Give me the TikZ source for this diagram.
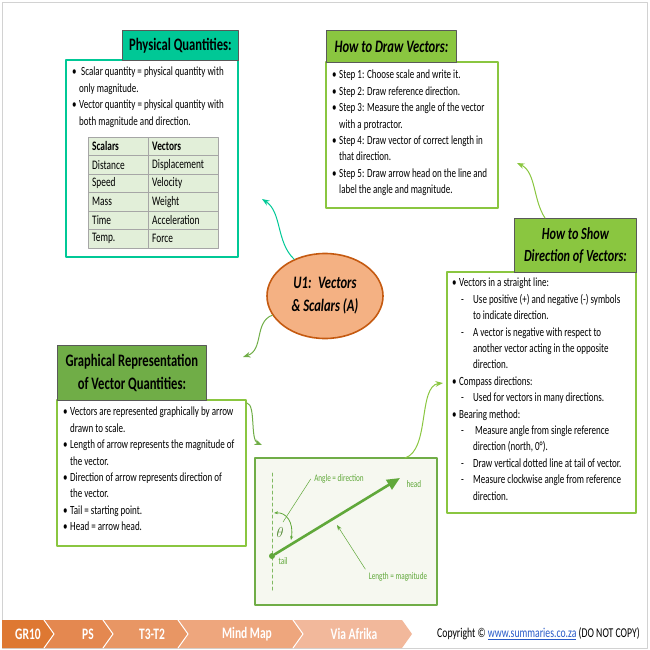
\documentclass[tikz,border=0pt]{standalone}
\usepackage{fontspec}
\setmainfont{Carlito}[FakeStretch=0.72]
\usetikzlibrary{arrows.meta,calc,positioning,shapes.geometric}
\definecolor{mapteal}{RGB}{0,200,150}
\definecolor{mapgreen}{RGB}{138,198,64}
\definecolor{mapdkgreen}{RGB}{112,173,71}
\definecolor{mapedge}{RGB}{89,89,89}
\definecolor{cellgreen}{RGB}{226,239,217}
\definecolor{topicfill}{RGB}{244,177,131}
\definecolor{topicedge}{RGB}{197,90,17}
\definecolor{sketchgreen}{RGB}{96,168,58}
\definecolor{sketchfill}{RGB}{246,248,240}
\definecolor{chevA}{RGB}{222,120,50}
\definecolor{chevB}{RGB}{228,136,80}
\definecolor{chevC}{RGB}{232,150,100}
\definecolor{chevD}{RGB}{238,166,125}
\definecolor{chevE}{RGB}{242,184,155}
\definecolor{linkblue}{RGB}{40,90,200}
\newcommand{\bl}{\makebox[7pt][l]{\textbullet}}
\newcommand{\cn}{\hspace*{7pt}}
\newcommand{\dl}{\hspace*{9pt}\makebox[12pt][l]{-}}
\newcommand{\dc}{\hspace*{21pt}}

\begin{document}
\begin{tikzpicture}[x=1pt,y=-1pt,>=Stealth,line cap=round,line join=round,
  headbox/.style={draw=mapedge,line width=0.8pt,inner sep=0pt,anchor=north west,
    font=\fontsize{17.5}{21}\selectfont\bfseries,align=center},
  bodybox/.style={line width=2.6pt,fill=white},
  bodytext/.style={inner sep=0pt,anchor=north west,align=left,
    font=\fontsize{12.5}{16.4}\selectfont},
  cell/.style={draw=gray!70,fill=cellgreen,line width=0.5pt},
  conn/.style={->,line width=1pt,shorten >=0pt},
  sketch/.style={sketchgreen,font=\fontsize{10}{12}\selectfont},
  chev/.style={draw=white,line width=1pt},
  chevtext/.style={text=white,font=\fontsize{16}{18}\selectfont\bfseries}]
 \useasboundingbox (0,0) rectangle (650,650);
 \draw[gray!35,line width=0.8pt] (2,2) rectangle (647,648);

 % physical quantities
 \draw[bodybox,draw=mapteal] (66,60) rectangle (238,257);
 \node[headbox,fill=mapteal,minimum width=116pt,minimum height=30pt]
  (pqhead) at (122,30) {Physical Quantities:};
 \node[bodytext] (pqtext) at (72,67)
  {\bl\ Scalar quantity = physical quantity with\\
   \cn only magnitude.\\
   \bl Vector quantity = physical quantity with\\
   \cn both magnitude and direction.};
 \foreach \s/\v [count=\i from 0] in {Scalars/Vectors,Distance/Displacement,
   Speed/Velocity,Mass/Weight,Time/Acceleration,Temp./Force}{
  \draw[cell] (88,{137+18.5*\i}) rectangle (148,{155.5+18.5*\i});
  \draw[cell] (148,{137+18.5*\i}) rectangle (218,{155.5+18.5*\i});
  \node[anchor=west,inner sep=0pt,font=\fontsize{13}{15}\selectfont]
   (sc\i) at (92,{146.25+18.5*\i}) {\ifnum\i=0\bfseries\fi\s};
  \node[anchor=west,inner sep=0pt,font=\fontsize{13}{15}\selectfont]
   (vc\i) at (152,{146.25+18.5*\i}) {\ifnum\i=0\bfseries\fi\v};
 }

 % how to draw vectors
 \draw[bodybox,draw=mapgreen] (326,62) rectangle (498,208);
 \node[headbox,fill=mapgreen,minimum width=130pt,minimum height=32pt,
  font=\fontsize{17.5}{21}\selectfont\bfseries\itshape]
  (drawhead) at (326,30) {How to Draw Vectors:};
 \node[bodytext] (drawtext) at (332,70)
  {\bl Step 1: Choose scale and write it.\\
   \bl Step 2: Draw reference direction.\\
   \bl Step 3: Measure the angle of the vector\\
   \cn with a protractor.\\
   \bl Step 4: Draw vector of correct length in\\
   \cn that direction.\\
   \bl Step 5: Draw arrow head on the line and\\
   \cn label the angle and magnitude.};

 % how to show direction
 \draw[bodybox,draw=mapgreen] (447,272) rectangle (636,513);
 \node[headbox,fill=mapgreen,minimum width=122pt,minimum height=54pt,
  font=\fontsize{17}{22}\selectfont\bfseries\itshape]
  (showhead) at (514,218) {How to Show\\Direction of Vectors:};
 \node[bodytext] (showtext) at (452,278)
  {\bl Vectors in a straight line:\\
   \dl Use positive (+) and negative (-) symbols\\
   \dc to indicate direction.\\
   \dl A vector is negative with respect to\\
   \dc another vector acting in the opposite\\
   \dc direction.\\
   \bl Compass directions:\\
   \dl Used for vectors in many directions.\\
   \bl Bearing method:\\
   \dl\ Measure angle from single reference\\
   \dc direction (north, 0°).\\
   \dl Draw vertical dotted line at tail of vector.\\
   \dl Measure clockwise angle from reference\\
   \dc direction.};

 % graphical representation
 \draw[bodybox,draw=mapgreen] (57,400) rectangle (246,546);
 \node[headbox,fill=mapdkgreen,minimum width=149pt,minimum height=55pt,
  font=\fontsize{17.5}{23}\selectfont\bfseries]
  (graphead) at (57,345) {Graphical Representation\\of Vector Quantities:};
 \node[bodytext] (graptext) at (63,407)
  {\bl Vectors are represented graphically by arrow\\
   \cn drawn to scale.\\
   \bl Length of arrow represents the magnitude of\\
   \cn the vector.\\
   \bl Direction of arrow represents direction of\\
   \cn the vector.\\
   \bl Tail = starting point.\\
   \bl Head = arrow head.};

 % vector sketch
 \draw[line width=2.6pt,draw=mapdkgreen,fill=sketchfill] (255,458) rectangle (437,605);
 \coordinate (reftop) at (272,473);
 \coordinate (refbot) at (272,590);
 \draw[sketchgreen!80,dashed,line width=1pt] (reftop) -- (refbot);
 \node[circle,fill=sketchgreen,inner sep=0pt,minimum size=6pt] (tail) at (272,556) {};
 \coordinate (head) at (400,478);
 \draw[sketchgreen,line width=2.6pt,-{Triangle[length=13pt,width=11pt]}] (tail) -- (head);
 \node[sketch,anchor=west] (headlbl) at (403,484) {head};
 \node[sketch,anchor=west] (taillbl) at (275,561) {tail};
 \draw[sketchgreen,line width=0.8pt,{Stealth[length=4pt]}-{Stealth[length=4pt]}]
  (274,513) .. controls (286,512) and (294,522) .. (291,540);
 \node[sketchgreen!80!black,font=\fontsize{14}{15}\selectfont] (theta) at (280,532) {$\theta$};
 \node[sketch] (anglelbl) at (339,479) {Angle = direction};
 \draw[sketchgreen,line width=0.5pt] (anglelbl.west) -- (283,522);
 \node[sketch] (lenlbl) at (398,577) {Length = magnitude};
 \draw[sketchgreen,line width=0.5pt,->] (lenlbl.north west) -- (337,525);

 % topic and links
 \node[ellipse,draw=topicedge,fill=topicfill,line width=1.6pt,minimum width=116pt,
  minimum height=85pt,inner sep=0pt,align=center,
  font=\fontsize{17.5}{23}\selectfont\bfseries\itshape]
  (topic) at (325,296) {U1:~ Vectors\\\& Scalars (A)};
 \coordinate (pqtip) at (262,199);
 \coordinate (graptip) at (243,357);
 \coordinate (drawtip) at (517,163);
 \coordinate (showtip) at (443,383);
 \coordinate (sketchtip) at (262,445);
 \draw[conn,mapteal] (topic.130) .. controls (276,242) and (282,212) .. (pqtip);
 \draw[conn,mapdkgreen] (topic.200) .. controls (254,322) and (264,350) .. (graptip);
 \draw[conn,mapgreen] ([xshift=31pt]showhead.north west)
  .. controls (533,200) and (536,172) .. (drawtip);
 \draw[conn,mapgreen] (405,458) .. controls (430,450) and (418,386) .. (showtip);
 \draw[conn,mapdkgreen] (247,403) .. controls (256,405) and (250,440) .. (sketchtip);

 % footer
 \fill[chevA] (2,620) -- (44,620) -- (54,634) -- (44,648) -- (2,648) -- cycle;
 \node[chevtext] (chev1) at (28,634) {GR10};
 \foreach \a/\b/\c/\m/\t [count=\k from 2] in {44/113/chevB/88/PS,103/188/chevC/152/T3-T2,
   178/303/chevD/247/Mind Map,293/412/chevE/354/Via Afrika}{
  \fill[\c] (\a,620) -- ({\b-10},620) -- (\b,634) -- ({\b-10},648) -- (\a,648)
   -- ({\a+10},634) -- cycle;
  \draw[chev] (\a,620) -- ({\a+10},634) -- (\a,648);
  \node[chevtext] (chev\k) at (\m,634) {\t};
 }
 \node[anchor=west,inner sep=0pt,font=\fontsize{13.5}{15}\selectfont]
  (copy) at (437,634)
  {Copyright © \textcolor{linkblue}{\underline{www.summaries.co.za}} (DO NOT COPY)};
\end{tikzpicture}
\end{document}
